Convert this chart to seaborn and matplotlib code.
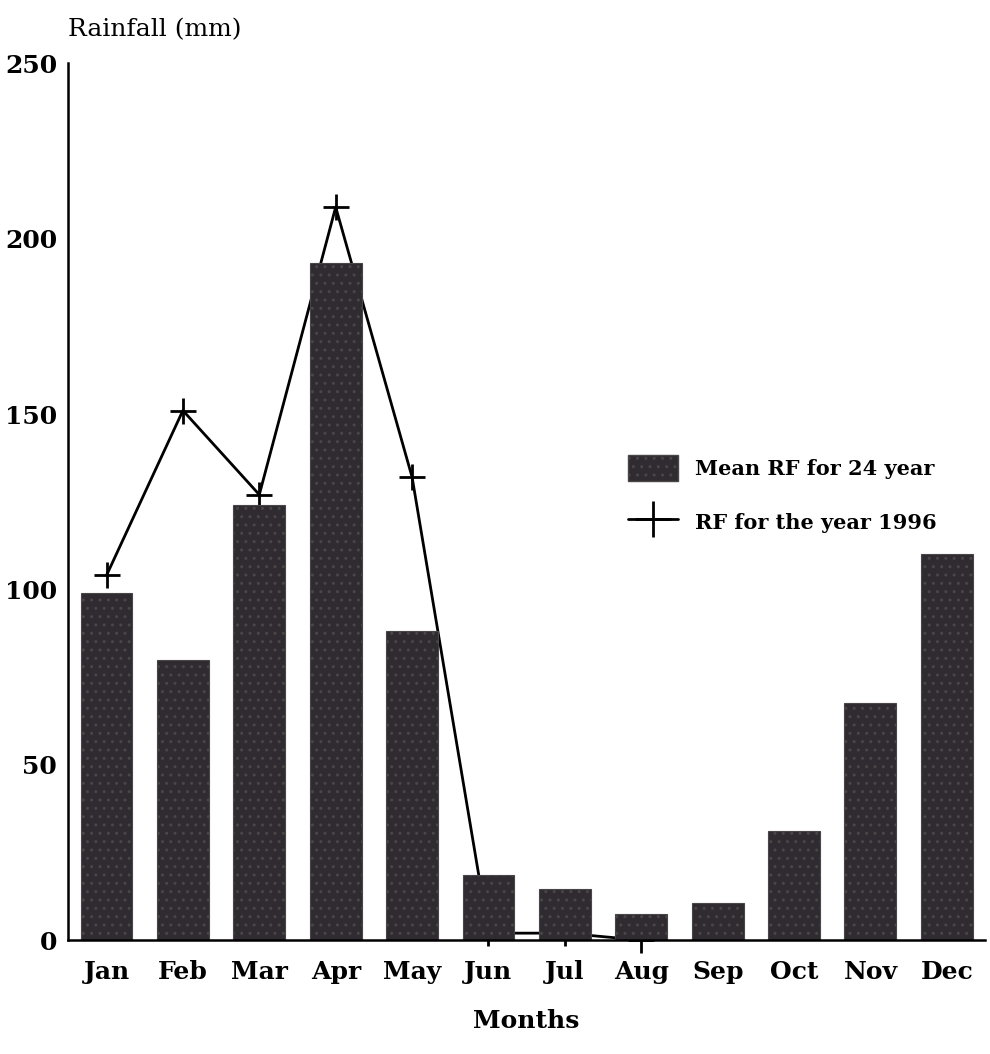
import numpy as np
import pandas as pd
import matplotlib
matplotlib.use("Agg")
import matplotlib.pyplot as plt
import seaborn as sns
from matplotlib.patches import Patch
from matplotlib.lines import Line2D

# Data
months = ["Jan", "Feb", "Mar", "Apr", "May", "Jun",
          "Jul", "Aug", "Sep", "Oct", "Nov", "Dec"]
mean_rf = [99, 80, 124, 193, 88, 18.5, 14.5, 7.5, 10.5, 31, 67.5, 110]
months_1996 = ["Jan", "Feb", "Mar", "Apr", "May", "Jun", "Jul", "Aug"]
rf_1996 = [104, 151, 127, 209, 132, 2, 2, 0]
y_ticks = [0, 50, 100, 150, 200, 250]

sns.set_style("white")
plt.rcParams['font.family'] = ['DejaVu Serif']
plt.rcParams['text.color'] = 'black'
plt.rcParams['xtick.color'] = 'black'
plt.rcParams['ytick.color'] = 'black'
plt.rcParams['axes.labelcolor'] = 'black'

df_mean = pd.DataFrame({"month": months, "rf": mean_rf})
df_1996 = pd.DataFrame({"month": months_1996, "rf": rf_1996})

fig = plt.figure(figsize=(9.9, 10.54), dpi=100)
ax = fig.add_axes([0.069, 0.108, 0.926, 0.832])

# 1996 line first so the bars cover it
sns.pointplot(data=df_1996, x="month", y="rf", order=months, color="black",
              markers="+", linestyles="-", ax=ax, zorder=1,
              markersize=19, markeredgewidth=2, linewidth=2)
for ln in ax.lines:
    ln.set_clip_on(False)

sns.barplot(data=df_mean, x="month", y="rf", order=months, color="#2f2b30",
            width=0.68, ax=ax, zorder=3, saturation=1,
            edgecolor="#4a4648", linewidth=0.8, hatch="..")

ax.set_xlim(-0.5, 11.5)
ax.set_ylim(0, 250)
ax.set_yticks(y_ticks)
ax.set_yticklabels([str(t) for t in y_ticks], fontsize=18, fontweight="bold")
ax.set_xticks(range(len(months)))
ax.set_xticklabels(months, fontsize=18, fontweight="bold")
ax.tick_params(axis="y", direction="in", length=7, width=1.5, pad=8)
ax.tick_params(axis="x", length=0, pad=14)

for side in ["top", "right"]:
    ax.spines[side].set_visible(False)
for side in ["left", "bottom"]:
    ax.spines[side].set_linewidth(1.8)
    ax.spines[side].set_color("black")
    ax.spines[side].set_zorder(5)

ax.set_xlabel("Months", fontsize=18, fontweight="bold", labelpad=18)
ax.set_ylabel("")
fig.text(0.069, 0.972, "Rainfall (mm)", fontsize=18, ha="left", va="center")

handles = [Patch(facecolor="#2f2b30", edgecolor="#4a4648", hatch=".."),
           Line2D([], [], color="black", marker="+", markersize=26,
                  markeredgewidth=2, linewidth=2)]
ax.legend(handles, ["Mean RF for 24 year", "RF for the year 1996"],
          loc="upper left", bbox_to_anchor=(0.59, 0.575), frameon=False,
          prop={"size": 15, "weight": "bold"}, handlelength=2.4,
          handleheight=1.6, labelspacing=1.3, handletextpad=0.8)

plt.savefig("out.png", dpi=100)
